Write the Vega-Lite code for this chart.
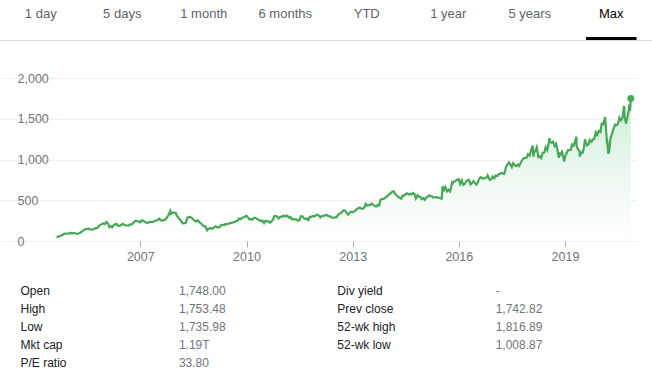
{
  "$schema": "https://vega.github.io/schema/vega-lite/v6.json",
  "padding": 0,
  "spacing": 38,
  "bounds": "flush",
  "background": "white",
  "config": {"view": {"stroke": null}, "font": "Liberation Sans"},
  "datasets": {
    "price": [
      {"d":"2004-08-19","v":50},{"d":"2004-09-01","v":51},{"d":"2004-09-15","v":57},{"d":"2004-10-01","v":66},{"d":"2004-10-15","v":70},{"d":"2004-11-01","v":85},{"d":"2004-11-15","v":92},{"d":"2004-12-01","v":90},{"d":"2004-12-15","v":89},
      {"d":"2005-01-01","v":96},{"d":"2005-01-15","v":100},{"d":"2005-02-01","v":95},{"d":"2005-02-15","v":98},{"d":"2005-03-01","v":93},{"d":"2005-03-15","v":89},{"d":"2005-04-01","v":90},{"d":"2005-04-15","v":99},{"d":"2005-05-01","v":110},{"d":"2005-05-15","v":120},{"d":"2005-06-01","v":140},{"d":"2005-06-15","v":146},{"d":"2005-07-01","v":147},{"d":"2005-07-15","v":151},{"d":"2005-08-01","v":144},{"d":"2005-08-15","v":140},{"d":"2005-09-01","v":143},{"d":"2005-09-15","v":152},{"d":"2005-10-01","v":158},{"d":"2005-10-15","v":159},{"d":"2005-11-01","v":186},{"d":"2005-11-15","v":198},{"d":"2005-12-01","v":207},{"d":"2005-12-15","v":215},
      {"d":"2006-01-01","v":207},{"d":"2006-01-15","v":233},{"d":"2006-02-01","v":216},{"d":"2006-02-15","v":171},{"d":"2006-03-01","v":182},{"d":"2006-03-15","v":168},{"d":"2006-04-01","v":195},{"d":"2006-04-15","v":205},{"d":"2006-05-01","v":208},{"d":"2006-05-15","v":188},{"d":"2006-06-01","v":186},{"d":"2006-06-15","v":196},{"d":"2006-07-01","v":210},{"d":"2006-07-15","v":202},{"d":"2006-08-01","v":193},{"d":"2006-08-15","v":190},{"d":"2006-09-01","v":189},{"d":"2006-09-15","v":203},{"d":"2006-10-01","v":201},{"d":"2006-10-15","v":215},{"d":"2006-11-01","v":238},{"d":"2006-11-15","v":248},{"d":"2006-12-01","v":242},{"d":"2006-12-15","v":240},
      {"d":"2007-01-01","v":230},{"d":"2007-01-15","v":252},{"d":"2007-02-01","v":250},{"d":"2007-02-15","v":234},{"d":"2007-03-01","v":225},{"d":"2007-03-15","v":222},{"d":"2007-04-01","v":229},{"d":"2007-04-15","v":234},{"d":"2007-05-01","v":236},{"d":"2007-05-15","v":235},{"d":"2007-06-01","v":249},{"d":"2007-06-15","v":252},{"d":"2007-07-01","v":261},{"d":"2007-07-15","v":276},{"d":"2007-08-01","v":255},{"d":"2007-08-15","v":248},{"d":"2007-09-01","v":258},{"d":"2007-09-15","v":262},{"d":"2007-10-01","v":284},{"d":"2007-10-15","v":310},{"d":"2007-11-01","v":354},{"d":"2007-11-06","v":368},{"d":"2007-11-15","v":332},{"d":"2007-12-01","v":347},{"d":"2007-12-15","v":347},
      {"d":"2008-01-01","v":346},{"d":"2008-01-15","v":308},{"d":"2008-02-01","v":282},{"d":"2008-02-15","v":265},{"d":"2008-03-01","v":236},{"d":"2008-03-15","v":216},{"d":"2008-04-01","v":220},{"d":"2008-04-15","v":223},{"d":"2008-05-01","v":287},{"d":"2008-05-15","v":292},{"d":"2008-06-01","v":293},{"d":"2008-06-15","v":285},{"d":"2008-07-01","v":263},{"d":"2008-07-15","v":249},{"d":"2008-08-01","v":237},{"d":"2008-08-15","v":255},{"d":"2008-09-01","v":232},{"d":"2008-09-15","v":221},{"d":"2008-10-01","v":200},{"d":"2008-10-15","v":181},{"d":"2008-11-01","v":180},{"d":"2008-11-21","v":131},{"d":"2008-12-01","v":146},{"d":"2008-12-15","v":158},
      {"d":"2009-01-01","v":154},{"d":"2009-01-15","v":150},{"d":"2009-02-01","v":169},{"d":"2009-02-15","v":181},{"d":"2009-03-01","v":169},{"d":"2009-03-15","v":165},{"d":"2009-04-01","v":174},{"d":"2009-04-15","v":196},{"d":"2009-05-01","v":198},{"d":"2009-05-15","v":196},{"d":"2009-06-01","v":209},{"d":"2009-06-15","v":208},{"d":"2009-07-01","v":211},{"d":"2009-07-15","v":220},{"d":"2009-08-01","v":222},{"d":"2009-08-15","v":230},{"d":"2009-09-01","v":231},{"d":"2009-09-15","v":246},{"d":"2009-10-01","v":248},{"d":"2009-10-15","v":276},{"d":"2009-11-01","v":268},{"d":"2009-11-15","v":286},{"d":"2009-12-01","v":292},{"d":"2009-12-15","v":298},
      {"d":"2010-01-01","v":310},{"d":"2010-01-15","v":290},{"d":"2010-02-01","v":265},{"d":"2010-02-15","v":270},{"d":"2010-03-01","v":263},{"d":"2010-03-15","v":282},{"d":"2010-04-01","v":284},{"d":"2010-04-15","v":274},{"d":"2010-05-01","v":263},{"d":"2010-05-15","v":254},{"d":"2010-06-01","v":243},{"d":"2010-06-15","v":250},{"d":"2010-07-01","v":222},{"d":"2010-07-15","v":247},{"d":"2010-08-01","v":242},{"d":"2010-08-15","v":244},{"d":"2010-09-01","v":225},{"d":"2010-09-15","v":240},{"d":"2010-10-01","v":263},{"d":"2010-10-15","v":307},{"d":"2010-11-01","v":307},{"d":"2010-11-15","v":297},{"d":"2010-12-01","v":278},{"d":"2010-12-15","v":296},
      {"d":"2011-01-01","v":297},{"d":"2011-01-15","v":312},{"d":"2011-02-01","v":300},{"d":"2011-02-15","v":312},{"d":"2011-03-01","v":307},{"d":"2011-03-15","v":285},{"d":"2011-04-01","v":293},{"d":"2011-04-15","v":265},{"d":"2011-05-01","v":272},{"d":"2011-05-15","v":265},{"d":"2011-06-01","v":265},{"d":"2011-06-15","v":251},{"d":"2011-07-01","v":253},{"d":"2011-07-15","v":302},{"d":"2011-08-01","v":302},{"d":"2011-08-15","v":280},{"d":"2011-09-01","v":270},{"d":"2011-09-15","v":275},{"d":"2011-10-01","v":257},{"d":"2011-10-15","v":296},{"d":"2011-11-01","v":296},{"d":"2011-11-15","v":306},{"d":"2011-12-01","v":300},{"d":"2011-12-15","v":313},
      {"d":"2012-01-01","v":323},{"d":"2012-01-15","v":315},{"d":"2012-02-01","v":290},{"d":"2012-02-15","v":305},{"d":"2012-03-01","v":309},{"d":"2012-03-15","v":310},{"d":"2012-04-01","v":321},{"d":"2012-04-15","v":312},{"d":"2012-05-01","v":302},{"d":"2012-05-15","v":302},{"d":"2012-06-01","v":285},{"d":"2012-06-15","v":285},{"d":"2012-07-01","v":290},{"d":"2012-07-15","v":290},{"d":"2012-08-01","v":316},{"d":"2012-08-15","v":336},{"d":"2012-09-01","v":343},{"d":"2012-09-15","v":360},{"d":"2012-10-01","v":377},{"d":"2012-10-15","v":372},{"d":"2012-11-01","v":340},{"d":"2012-11-15","v":324},{"d":"2012-12-01","v":349},{"d":"2012-12-15","v":360},
      {"d":"2013-01-01","v":354},{"d":"2013-01-15","v":362},{"d":"2013-02-01","v":378},{"d":"2013-02-15","v":396},{"d":"2013-03-01","v":401},{"d":"2013-03-15","v":410},{"d":"2013-04-01","v":397},{"d":"2013-04-15","v":395},{"d":"2013-05-01","v":412},{"d":"2013-05-15","v":456},{"d":"2013-06-01","v":436},{"d":"2013-06-15","v":440},{"d":"2013-07-01","v":440},{"d":"2013-07-15","v":460},{"d":"2013-08-01","v":444},{"d":"2013-08-15","v":428},{"d":"2013-09-01","v":423},{"d":"2013-09-15","v":443},{"d":"2013-10-01","v":438},{"d":"2013-10-15","v":505},{"d":"2013-11-01","v":515},{"d":"2013-11-15","v":517},{"d":"2013-12-01","v":530},{"d":"2013-12-15","v":540},
      {"d":"2014-01-01","v":560},{"d":"2014-01-15","v":574},{"d":"2014-02-01","v":590},{"d":"2014-02-15","v":608},{"d":"2014-03-01","v":608},{"d":"2014-03-15","v":575},{"d":"2014-04-01","v":560},{"d":"2014-04-15","v":540},{"d":"2014-05-01","v":530},{"d":"2014-05-15","v":520},{"d":"2014-06-01","v":559},{"d":"2014-06-15","v":555},{"d":"2014-07-01","v":575},{"d":"2014-07-15","v":585},{"d":"2014-08-01","v":571},{"d":"2014-08-15","v":580},{"d":"2014-09-01","v":572},{"d":"2014-09-15","v":590},{"d":"2014-10-01","v":578},{"d":"2014-10-15","v":522},{"d":"2014-11-01","v":560},{"d":"2014-11-15","v":544},{"d":"2014-12-01","v":541},{"d":"2014-12-15","v":513},
      {"d":"2015-01-01","v":527},{"d":"2015-01-15","v":505},{"d":"2015-02-01","v":535},{"d":"2015-02-15","v":545},{"d":"2015-03-01","v":559},{"d":"2015-03-15","v":550},{"d":"2015-04-01","v":546},{"d":"2015-04-15","v":532},{"d":"2015-05-01","v":537},{"d":"2015-05-15","v":538},{"d":"2015-06-01","v":532},{"d":"2015-06-15","v":530},{"d":"2015-07-01","v":520},{"d":"2015-07-08","v":520},{"d":"2015-07-17","v":672},{"d":"2015-08-01","v":625},{"d":"2015-08-15","v":660},{"d":"2015-09-01","v":610},{"d":"2015-09-15","v":630},{"d":"2015-10-01","v":608},{"d":"2015-10-15","v":660},{"d":"2015-10-23","v":720},{"d":"2015-11-01","v":710},{"d":"2015-11-15","v":730},{"d":"2015-12-01","v":742},{"d":"2015-12-15","v":750},
      {"d":"2016-01-01","v":758},{"d":"2016-01-15","v":700},{"d":"2016-02-01","v":745},{"d":"2016-02-15","v":690},{"d":"2016-03-01","v":697},{"d":"2016-03-15","v":730},{"d":"2016-04-01","v":745},{"d":"2016-04-15","v":750},{"d":"2016-05-01","v":693},{"d":"2016-05-15","v":710},{"d":"2016-06-01","v":735},{"d":"2016-06-15","v":710},{"d":"2016-07-01","v":692},{"d":"2016-07-15","v":720},{"d":"2016-08-01","v":768},{"d":"2016-08-15","v":782},{"d":"2016-09-01","v":767},{"d":"2016-09-15","v":765},{"d":"2016-10-01","v":777},{"d":"2016-10-15","v":780},{"d":"2016-10-25","v":805},{"d":"2016-11-01","v":784},{"d":"2016-11-15","v":750},{"d":"2016-12-01","v":758},{"d":"2016-12-15","v":790},
      {"d":"2017-01-01","v":771},{"d":"2017-01-15","v":805},{"d":"2017-02-01","v":796},{"d":"2017-02-15","v":820},{"d":"2017-03-01","v":823},{"d":"2017-03-15","v":835},{"d":"2017-04-01","v":829},{"d":"2017-04-15","v":825},{"d":"2017-05-01","v":905},{"d":"2017-05-15","v":935},{"d":"2017-06-01","v":964},{"d":"2017-06-15","v":940},{"d":"2017-07-01","v":908},{"d":"2017-07-15","v":955},{"d":"2017-08-01","v":930},{"d":"2017-08-15","v":920},{"d":"2017-09-01","v":939},{"d":"2017-09-15","v":921},{"d":"2017-10-01","v":959},{"d":"2017-10-15","v":990},{"d":"2017-11-01","v":1016},{"d":"2017-11-15","v":1020},{"d":"2017-12-01","v":1021},{"d":"2017-12-15","v":1065},
      {"d":"2018-01-01","v":1046},{"d":"2018-01-15","v":1110},{"d":"2018-02-01","v":1170},{"d":"2018-02-09","v":1035},{"d":"2018-02-15","v":1085},{"d":"2018-03-01","v":1104},{"d":"2018-03-15","v":1150},{"d":"2018-04-01","v":1031},{"d":"2018-04-15","v":1040},{"d":"2018-05-01","v":1018},{"d":"2018-05-15","v":1080},{"d":"2018-06-01","v":1084},{"d":"2018-06-15","v":1150},{"d":"2018-07-01","v":1115},{"d":"2018-07-15","v":1190},{"d":"2018-07-26","v":1262},{"d":"2018-08-01","v":1217},{"d":"2018-08-15","v":1205},{"d":"2018-09-01","v":1218},{"d":"2018-09-15","v":1165},{"d":"2018-10-01","v":1193},{"d":"2018-10-15","v":1120},{"d":"2018-10-29","v":1020},{"d":"2018-11-01","v":1076},{"d":"2018-11-15","v":1060},{"d":"2018-12-01","v":1094},{"d":"2018-12-24","v":976},
      {"d":"2019-01-01","v":1035},{"d":"2019-01-15","v":1070},{"d":"2019-02-01","v":1116},{"d":"2019-02-15","v":1115},{"d":"2019-03-01","v":1119},{"d":"2019-03-15","v":1185},{"d":"2019-04-01","v":1173},{"d":"2019-04-15","v":1225},{"d":"2019-04-29","v":1280},{"d":"2019-05-01","v":1170},{"d":"2019-05-15","v":1125},{"d":"2019-06-01","v":1103},{"d":"2019-06-03","v":1036},{"d":"2019-06-15","v":1085},{"d":"2019-07-01","v":1081},{"d":"2019-07-15","v":1145},{"d":"2019-07-26","v":1250},{"d":"2019-08-01","v":1216},{"d":"2019-08-15","v":1175},{"d":"2019-09-01","v":1188},{"d":"2019-09-15","v":1240},{"d":"2019-10-01","v":1219},{"d":"2019-10-15","v":1245},{"d":"2019-11-01","v":1260},{"d":"2019-11-15","v":1335},{"d":"2019-12-01","v":1304},{"d":"2019-12-15","v":1350},
      {"d":"2020-01-01","v":1337},{"d":"2020-01-15","v":1440},{"d":"2020-02-01","v":1434},{"d":"2020-02-19","v":1520},{"d":"2020-03-01","v":1339},{"d":"2020-03-09","v":1215},{"d":"2020-03-13","v":1220},{"d":"2020-03-23","v":1070},{"d":"2020-04-01","v":1105},{"d":"2020-04-15","v":1263},{"d":"2020-05-01","v":1320},{"d":"2020-05-15","v":1375},{"d":"2020-06-01","v":1428},{"d":"2020-06-15","v":1420},{"d":"2020-07-01","v":1440},{"d":"2020-07-15","v":1514},{"d":"2020-08-01","v":1482},{"d":"2020-08-15","v":1505},{"d":"2020-09-02","v":1660},{"d":"2020-09-08","v":1532},{"d":"2020-09-21","v":1440},{"d":"2020-10-01","v":1490},{"d":"2020-10-15","v":1570},{"d":"2020-10-23","v":1640},{"d":"2020-10-30","v":1620},{"d":"2020-11-03","v":1616},{"d":"2020-11-10","v":1748}
    ]
  },
  "vconcat": [
    {
      "width": 652,
      "height": 40,
      "data": {"values": [
        {"t":"1 day","s":0},{"t":"5 days","s":0},{"t":"1 month","s":0},{"t":"6 months","s":0},
        {"t":"YTD","s":0},{"t":"1 year","s":0},{"t":"5 years","s":0},{"t":"Max","s":1}
      ]},
      "encoding": {
        "x": {"field": "t", "type": "nominal", "sort": null,
              "scale": {"paddingInner": 0, "paddingOuter": 0},
              "axis": {"orient": "bottom", "labels": false, "ticks": false, "domain": true, "domainColor": "#dadce0", "domainWidth": 1, "grid": false, "title": null}}
      },
      "layer": [
        {
          "mark": {"type": "bar", "color": "#000000", "width": {"band": 0.62}},
          "encoding": {"y": {"field": "s", "type": "quantitative", "scale": {"domain": [0, 13.33], "nice": false}, "axis": null}}
        },
        {
          "mark": {"type": "text", "fontSize": 13, "baseline": "alphabetic", "dy": -2},
          "encoding": {
            "text": {"field": "t"},
            "color": {"condition": {"test": "datum.s == 1", "value": "#000000"}, "value": "#5f6368"}
          }
        }
      ]
    },
    {
      "width": 637,
      "height": 163,
      "data": {"name": "price"},
      "encoding": {
        "x": {"field": "d", "type": "temporal",
              "scale": {"type": "utc", "domain": [{"year": 2003, "month": 1, "date": 14, "utc": true}, {"year": 2021, "month": 1, "date": 13, "utc": true}]},
              "axis": {"values": [{"year": 2007, "month": 1, "date": 1, "utc": true}, {"year": 2010, "month": 1, "date": 1, "utc": true}, {"year": 2013, "month": 1, "date": 1, "utc": true}, {"year": 2016, "month": 1, "date": 1, "utc": true}, {"year": 2019, "month": 1, "date": 1, "utc": true}],
                       "format": "%Y", "domain": false, "ticks": true, "tickSize": 6, "tickColor": "#b0b0b0", "tickWidth": 1,
                       "labelPadding": 3, "labelColor": "#70757a", "labelFontSize": 12.5, "grid": false, "title": null}},
        "y": {"field": "v", "type": "quantitative",
              "scale": {"domain": [0, 2000], "nice": false},
              "axis": {"values": [0, 500, 1000, 1500, 2000], "format": ",.0f", "labelAlign": "left", "labelPadding": -17,
                       "ticks": false, "tickSize": 0, "domain": false, "grid": true, "gridColor": "#f0f0f0",
                       "labelColor": "#70757a", "labelFontSize": 12.5, "title": null}}
      },
      "layer": [
        {
          "mark": {"type": "area", "color": {"gradient": "linear", "x1": 0, "y1": 0, "x2": 0, "y2": 1,
                    "stops": [{"offset": 0, "color": "#cdeed9"}, {"offset": 0.55, "color": "#eef8f1"}, {"offset": 1, "color": "#ffffff"}]}}
        },
        {
          "data": {"values": [{"d": "2003-09-08", "e": "2021-01-13"}], "format": {"parse": {"d": "date", "e": "date"}}},
          "mark": {"type": "rule", "color": "#b4b4b4", "strokeWidth": 2},
          "encoding": {"x2": {"field": "e"}, "y": {"datum": 0}}
        },
        {
          "mark": {"type": "line", "color": "#46a757", "strokeWidth": 2.2}
        },
        {
          "transform": [{"filter": {"field": "v", "equal": 1748}}],
          "mark": {"type": "circle", "color": "#46a757", "size": 48, "opacity": 1}
        }
      ]
    },
    {
      "width": 652,
      "height": 98,
      "data": {"values": [
        {"r":1,"c":1,"t":"Open"},{"r":1,"c":2,"t":"1,748.00"},{"r":1,"c":3,"t":"Div yield"},{"r":1,"c":4,"t":"-"},
        {"r":2,"c":1,"t":"High"},{"r":2,"c":2,"t":"1,753.48"},{"r":2,"c":3,"t":"Prev close"},{"r":2,"c":4,"t":"1,742.82"},
        {"r":3,"c":1,"t":"Low"},{"r":3,"c":2,"t":"1,735.98"},{"r":3,"c":3,"t":"52-wk high"},{"r":3,"c":4,"t":"1,816.89"},
        {"r":4,"c":1,"t":"Mkt cap"},{"r":4,"c":2,"t":"1.19T"},{"r":4,"c":3,"t":"52-wk low"},{"r":4,"c":4,"t":"1,008.87"},
        {"r":5,"c":1,"t":"P/E ratio"},{"r":5,"c":2,"t":"33.80"}
      ]},
      "mark": {"type": "text", "align": "left", "baseline": "alphabetic", "fontSize": 12},
      "encoding": {
        "x": {"field": "c", "type": "quantitative", "scale": {"domain": [0.8706, 4.9868], "nice": false, "zero": false}, "axis": null},
        "y": {"field": "r", "type": "quantitative", "scale": {"domain": [0.1389, 5.583], "nice": false, "zero": false, "reverse": true}, "axis": null},
        "text": {"field": "t"},
        "color": {"condition": {"test": "datum.c % 2 == 1", "value": "#202124"}, "value": "#70757a"}
      }
    }
  ]
}
